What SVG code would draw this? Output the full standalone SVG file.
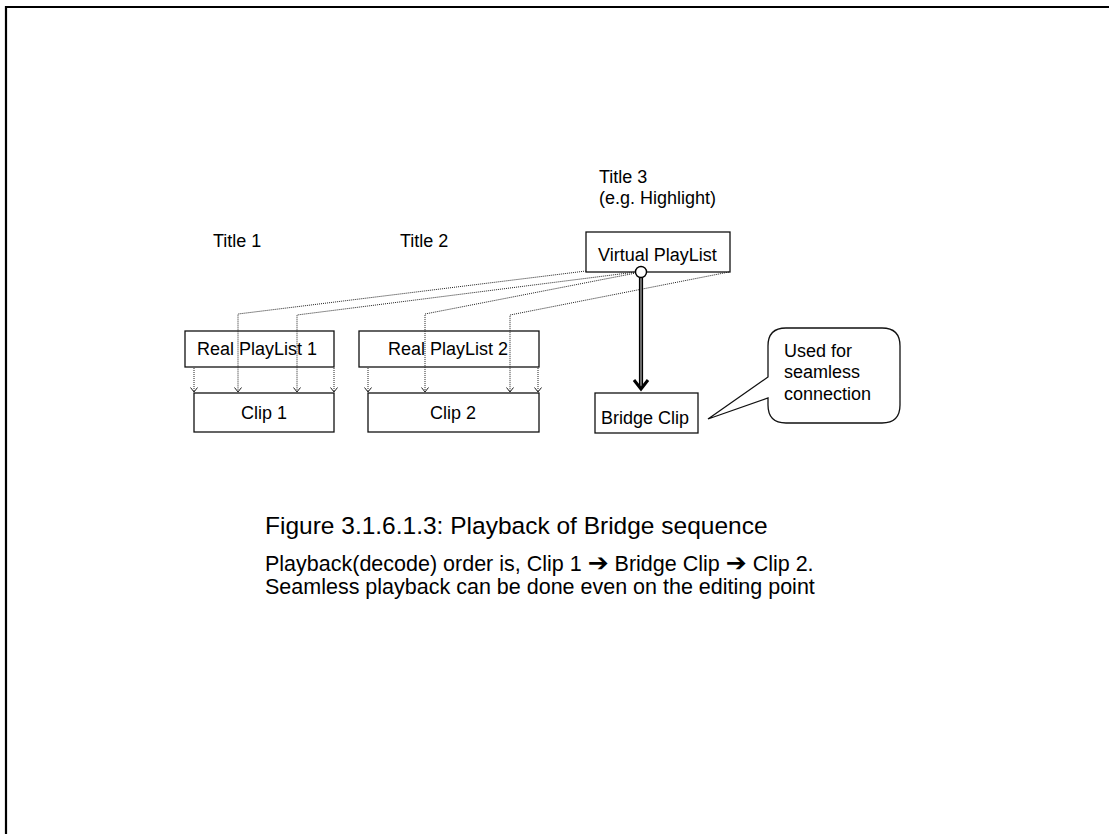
<svg xmlns="http://www.w3.org/2000/svg" width="1109" height="834" viewBox="0 0 1109 834">
<style>
  text { font-family: "Liberation Sans", Arial, sans-serif; fill: #000; }
  .lbl { font-size: 18px; }
  .box { fill: #fff; stroke: #111; stroke-width: 1.3; }
  .dot { fill: none; stroke: #222; stroke-width: 1; stroke-dasharray: 1 1; }
  .cap { font-size: 24.5px; }
  .body { font-size: 21.5px; }
  .arr { font-family: "DejaVu Sans", sans-serif; font-weight: bold; font-size: 25px; }
</style>
<defs>
  <marker id="vhead" markerWidth="8" markerHeight="10" refX="0" refY="0" orient="auto" markerUnits="userSpaceOnUse" viewBox="-6 -5 7 10">
    <path d="M-4.5,-3.5 L0,0 L-4.5,3.5" fill="none" stroke="#222" stroke-width="1"/>
  </marker>
</defs>
<path d="M6,834 V7 H1109" fill="none" stroke="#000" stroke-width="2.2"/>

<g id="title1"><text class="lbl" x="213" y="247">Title 1</text></g>
<g id="title2"><text class="lbl" x="400" y="247">Title 2</text></g>
<g id="title3"><text class="lbl" x="599" y="183">Title 3</text><text class="lbl" x="599" y="204">(e.g. Highlight)</text></g>

<g id="virtual-playlist">
  <rect class="box" x="586" y="232" width="144" height="40"/>
  <text class="lbl" x="598" y="261">Virtual PlayList</text>
</g>
<g id="real-playlist-1">
  <rect class="box" x="185" y="331" width="149" height="36"/>
  <text class="lbl" x="197" y="355">Real PlayList 1</text>
</g>
<g id="real-playlist-2">
  <rect class="box" x="359" y="331" width="180" height="36"/>
  <text class="lbl" x="388" y="355">Real PlayList 2</text>
</g>
<g id="clip1">
  <rect class="box" x="194" y="393" width="140" height="39"/>
  <text class="lbl" x="241" y="419">Clip 1</text>
</g>
<g id="clip2">
  <rect class="box" x="368" y="393" width="171" height="39"/>
  <text class="lbl" x="430" y="419">Clip 2</text>
</g>
<g id="bridge-clip">
  <rect class="box" x="595" y="393" width="103" height="40"/>
  <text class="lbl" x="601" y="424">Bridge Clip</text>
</g>
<g id="callout">
  <path d="M786,328 H882 Q900,328 900,346 V405 Q900,423 882,423 H786 Q768,423 768,405 V398 L708,419 L768,377 V346 Q768,328 786,328 Z" fill="#fff" stroke="#111" stroke-width="1.3"/>
  <text class="lbl" x="784" y="357">Used for</text>
  <text class="lbl" x="784" y="378">seamless</text>
  <text class="lbl" x="784" y="400">connection</text>
</g>

<g id="connectors">
  <polyline class="dot" points="586,271 238,314 238,392" marker-end="url(#vhead)"/>
  <polyline class="dot" points="636,272 297,315 297,392" marker-end="url(#vhead)"/>
  <polyline class="dot" points="636,273 425,314 425,392" marker-end="url(#vhead)"/>
  <polyline class="dot" points="729,272 510,315 510,392" marker-end="url(#vhead)"/>
  <line class="dot" x1="194" y1="368" x2="194" y2="392" marker-end="url(#vhead)"/>
  <line class="dot" x1="334" y1="368" x2="334" y2="392" marker-end="url(#vhead)"/>
  <line class="dot" x1="368" y1="368" x2="368" y2="392" marker-end="url(#vhead)"/>
  <line class="dot" x1="538" y1="368" x2="538" y2="392" marker-end="url(#vhead)"/>
  <line x1="641" y1="277" x2="641" y2="388" stroke="#000" stroke-width="4.2"/>
  <line x1="641" y1="277" x2="641" y2="387" stroke="#888" stroke-width="1.6"/>
  <path d="M634,380 L641,389 L648,380" fill="none" stroke="#000" stroke-width="3"/>
  <circle cx="641" cy="272" r="5.5" fill="#fff" stroke="#000" stroke-width="1.4"/>
</g>

<g id="caption">
  <text class="cap" x="265" y="534">Figure 3.1.6.1.3: Playback of Bridge sequence</text>
  <text class="body" x="265" y="571">Playback(decode) order is, Clip 1 <tspan class="arr">➔</tspan> Bridge Clip <tspan class="arr">➔</tspan> Clip 2.</text>
  <text class="body" x="265" y="594">Seamless playback can be done even on the editing point</text>
</g>
</svg>
